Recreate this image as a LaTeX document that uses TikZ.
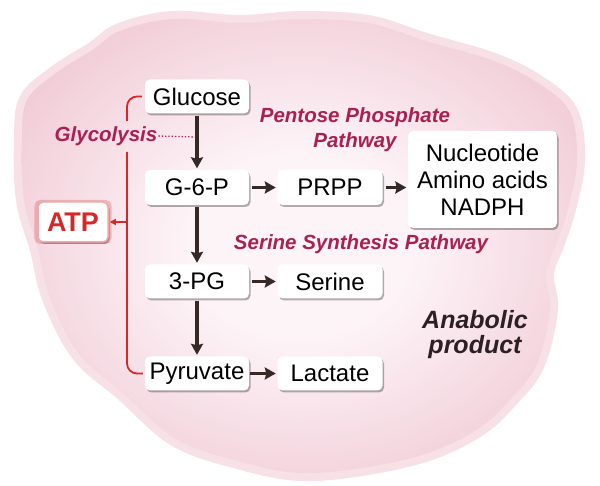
\documentclass[tikz,border=0pt]{standalone}
\usepackage{fontspec}
\setmainfont{Liberation Sans}
\usetikzlibrary{arrows.meta,shadows,calc}
\definecolor{crim}{RGB}{170,32,80}
\definecolor{arr}{RGB}{55,40,40}
\definecolor{redl}{RGB}{214,40,40}
\definecolor{rim}{RGB}{248,224,231}
\definecolor{blobA}{RGB}{253,244,247}
\definecolor{blobB}{RGB}{230,166,185}
\definecolor{anab}{RGB}{45,32,36}
\pgfdeclareradialshading{blobshade}{\pgfpoint{0bp}{0bp}}{color(0bp)=(blobA); color(10bp)=(blobA); color(48bp)=(blobB); color(70bp)=(blobB)}
\tikzset{
  box/.style={rectangle, rounded corners=5pt, fill=white, minimum width=104pt, minimum height=34pt, inner sep=0pt,
    font=\fontsize{24}{28}\selectfont, text=black,
    drop shadow={shadow xshift=1.5pt, shadow yshift=-2pt, fill=black, opacity=0.3}},
  lbl/.style={font=\bfseries\itshape\fontsize{20.5}{25}\selectfont, text=crim, inner sep=1pt},
  flow/.style={draw=arr, line width=3.6pt, -{Stealth[length=11pt,width=12pt,inset=1.5pt]}, shorten <=2pt, shorten >=1.5pt},
  redline/.style={draw=redl, line width=1.8pt},
}
\begin{document}
\begin{tikzpicture}[x=1pt,y=-1pt]
\useasboundingbox (0,0) rectangle (600,486);
% background blob
\def\blobcoords{(120,31) (172,19) (240,23) (300,19) (368,23) (426,41) (494,61) (538,83) (570,112) (577,160) (569,205) (558,240) (546,274) (550,310) (536,366) (507,403) (478,429) (431,452) (368,467) (300,473) (238,461) (176,439) (123,393) (79,354) (50,298) (38,250) (24,200) (22,140) (27,100) (56,73) (94,49)}
\path[draw=rim, line width=16pt] plot[smooth cycle, tension=0.6] coordinates {\blobcoords};
\shade[shading=blobshade] plot[smooth cycle, tension=0.6] coordinates {\blobcoords};

% boxes
\node[box] (glc) at (197,96.5) {Glucose};
\node[box, minimum height=35pt] (g6p) at (197,187.5) {G-6-P};
\node[box, minimum width=105pt, minimum height=35pt] (prpp) at (330,187.5) {PRPP};
\node[box, minimum width=149pt, minimum height=97pt, align=center, font=\fontsize{24}{27}\selectfont] (nuc) at (482.5,179.5) {Nucleotide\\Amino acids\\NADPH};
\node[box] (pg3) at (197,281.5) {3-PG};
\node[box, minimum width=105pt] (ser) at (330,281.5) {Serine};
\node[box] (pyr) at (197,373.5) {Pyruvate};
\node[box, minimum width=105pt] (lac) at (330,373.5) {Lactate};
\node[box, minimum width=70pt, minimum height=40pt, text=redl, font=\bfseries\fontsize{27}{30}\selectfont,
  draw=redl!40, line width=1.5pt,
  drop shadow={shadow xshift=0pt, shadow yshift=0pt, shadow scale=1.1, fill=redl, opacity=0.25}] (atp) at (73,222) {ATP};

% labels
\node[lbl] (gly) at (106,136) {Glycolysis};
\node[lbl, align=center] (ppp) at (355,130) {Pentose Phosphate\\Pathway};
\node[lbl] (ssp) at (361,244) {Serine Synthesis Pathway};
\node[font=\bfseries\itshape\fontsize{25}{25}\selectfont, text=anab, align=center] (anp) at (475,335) {Anabolic\\product};

% main flow
\draw[flow] (glc) -- (g6p);
\draw[flow] (g6p) -- (pg3);
\draw[flow] (pg3) -- (pyr);
\draw[flow, shorten <=3pt] (g6p) -- (prpp);
\draw[flow, shorten <=3pt] (prpp.east) -- (prpp.east -| nuc.west);
\draw[flow, shorten <=3pt] (pg3) -- (ser);
\draw[flow, shorten <=1pt] (pyr) -- (lac);

% glycolysis dotted pointer
\coordinate (gd) at (195,137);
\draw[crim, dotted, line width=1.3pt] (gly.east) -- (gd);

% red bracket
\coordinate (b1) at (127,121);
\coordinate (b2) at (127,152);
\coordinate (bm) at (127,222);
\draw[redline, rounded corners=10pt] ([xshift=-3pt]glc.west) -| (b1);
\draw[redline, rounded corners=10pt] (b2) |- ([xshift=-2pt]pyr.west);
\draw[redline, -{Triangle[length=6pt,width=6pt]}, shorten >=1pt] (bm) -- (atp.east);
\end{tikzpicture}
\end{document}
